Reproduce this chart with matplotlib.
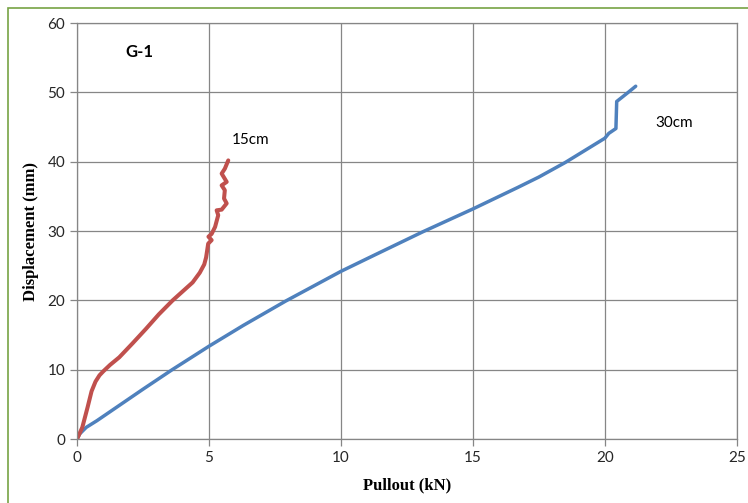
import matplotlib.pyplot as plt
from matplotlib.patches import Rectangle

# 15cm embedment (red)
pull_15 = [0.0, 0.2, 0.4, 0.55, 0.7, 0.85, 1.0, 1.25, 1.6, 2.1, 2.61, 3.1,
           3.62, 4.0, 4.38, 4.65, 4.82, 4.89, 4.97, 5.1, 4.98, 5.1, 5.23, 5.35,
           5.29, 5.48, 5.67, 5.57, 5.6, 5.48, 5.67, 5.48, 5.6, 5.73]
disp_15 = [0.0, 1.7, 4.6, 6.9, 8.3, 9.2, 9.8, 10.7, 11.8, 13.8, 15.9, 18.0,
           20.0, 21.3, 22.6, 24.0, 25.2, 26.2, 28.2, 28.7, 29.2, 29.6, 30.6, 32.3,
           33.0, 33.1, 34.0, 34.7, 35.9, 36.6, 37.1, 38.3, 39.0, 40.2]

# 30cm embedment (blue)
pull_30 = [0.0, 0.1, 0.35, 0.75, 1.5, 2.5, 3.6, 5.0, 6.3, 7.9, 10.0, 11.3,
           13.1, 15.0, 16.7, 17.5, 18.5, 19.1, 20.0, 20.15, 20.42, 20.45,
           20.88, 21.17]
disp_30 = [0.0, 0.75, 1.7, 2.65, 4.6, 7.2, 10.0, 13.4, 16.4, 19.9, 24.2, 26.6,
           29.9, 33.2, 36.3, 37.8, 39.9, 41.3, 43.4, 44.1, 44.8, 48.7,
           50.0, 50.9]

xticks = [0, 5, 10, 15, 20, 25]
yticks = [0, 10, 20, 30, 40, 50, 60]

grid_col = '#868686'

fig = plt.figure(figsize=(7.48, 5.03), dpi=100)
ax = fig.add_axes([0.103, 0.127, 0.882, 0.827])

ax.plot(pull_30, disp_30, color='#4F81BD', lw=2.5, solid_joinstyle='round',
        solid_capstyle='round')
ax.plot(pull_15, disp_15, color='#C0504D', lw=2.9, solid_joinstyle='round',
        solid_capstyle='round')

ax.set_xlim(0, 25)
ax.set_ylim(0, 60)
ax.set_xticks(xticks)
ax.set_yticks(yticks)
ax.grid(True, color=grid_col, lw=0.9)
ax.set_axisbelow(True)
for s in ax.spines.values():
    s.set_color(grid_col)
    s.set_linewidth(0.9)
ax.tick_params(axis='both', colors=grid_col, length=5, width=0.9,
               labelcolor='#262626', labelsize=11)
for lab in ax.get_xticklabels() + ax.get_yticklabels():
    lab.set_fontfamily('Lato')

ax.set_xlabel('Pullout (kN)', fontfamily='Liberation Serif', fontweight='bold',
              fontsize=12, labelpad=9)
ax.set_ylabel('Displacement (mm)', fontfamily='Liberation Serif', fontweight='bold',
              fontsize=12, labelpad=6)

ax.text(1.82, 55.8, 'G-1', fontfamily='Lato', fontweight='bold', fontsize=12,
        va='center')
ax.text(5.87, 43.1, '15cm', fontfamily='Lato', fontsize=11, va='center')
ax.text(21.9, 45.6, '30cm', fontfamily='Lato', fontsize=11, va='center')

# thin green frame of the chart area
fig.patches.append(Rectangle((8 / 748, -0.05), 1.0, 1 - 8 / 503 + 0.05,
                             transform=fig.transFigure, fill=False,
                             edgecolor='#77A344', lw=1.2))

fig.savefig('out.png', dpi=100)
